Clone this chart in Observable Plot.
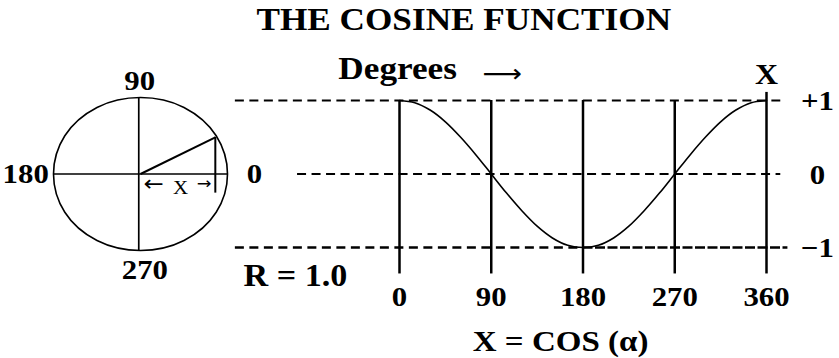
<!DOCTYPE html>
<html>
<head>
<meta charset="utf-8">
<script src="https://cdn.jsdelivr.net/npm/d3@7"></script>
<script src="https://cdn.jsdelivr.net/npm/@observablehq/plot@0.6"></script>
<style>
  html, body { margin: 0; padding: 0; background: #ffffff; }
  #chart { position: relative; width: 839px; height: 358px; overflow: hidden; background: #ffffff; }
  #chart svg { position: absolute; left: 0; top: 0; max-width: none; }
</style>
</head>
<body>
<div id="chart"></div>
<script>
// ---- Data ----
const titleText = ["THE COSINE FUNCTION"];
const axisTitle = ["Degrees"];
const rightArrow = ["\u27f6"];
const curveLabel = ["X"];
const radiusLabel = ["R = 1.0"];
const formulaLabel = ["X = COS (\u03b1)"];

const degreeTicks = [0, 90, 180, 270, 360];
const levelValues = [1, 0, -1];
const levelLabels = ["+1", "0", "\u22121"];

// cosine curve sampled every 15 degrees
const curveDegrees = [0, 15, 30, 45, 60, 75, 90, 105, 120, 135, 150, 165, 180,
                      195, 210, 225, 240, 255, 270, 285, 300, 315, 330, 345, 360];
const curveValues  = [1, 0.97, 0.87, 0.71, 0.5, 0.26, 0, -0.26, -0.5, -0.71, -0.87, -0.97, -1,
                      -0.97, -0.87, -0.71, -0.5, -0.26, 0, 0.26, 0.5, 0.71, 0.87, 0.97, 1];

// unit circle outline points (every 30 degrees)
const circleX = [1, 0.87, 0.5, 0, -0.5, -0.87, -1, -0.87, -0.5, 0, 0.5, 0.87];
const circleY = [0, 0.5, 0.87, 1, 0.87, 0.5, 0, -0.5, -0.87, -1, -0.87, -0.5];
const circleLabels = ["0", "90", "180", "270"];

// radius end point on the circle and its projection
const radiusPoint = {x: 0.86, y: 0.48};
const projectionParts = ["\u2190", "X", "\u2192"];

// ---- Styling ----
const font = "'Liberation Serif', 'DejaVu Serif', serif";
const arrowFont = "'DejaVu Sans', sans-serif";
const textStretch = 1.1;
const chart = document.getElementById("chart");

function stretchText(svg, factor) {
  d3.select(svg).selectAll("text").each(function () {
    const len = this.getComputedTextLength();
    if (len > 0) {
      this.setAttribute("textLength", (len * factor).toFixed(2));
      this.setAttribute("lengthAdjust", "spacingAndGlyphs");
    }
  });
}

const bold = {fontWeight: "bold", fill: "#000"};

// ---- Main cosine plot ----
const curveRows = curveDegrees.map((d, i) => ({deg: d, val: curveValues[i]}));

const main = Plot.plot({
  width: 839,
  height: 358,
  marginLeft: 399,
  marginRight: 73,
  marginTop: 100,
  marginBottom: 111,
  x: {domain: [0, 360], axis: null},
  y: {domain: [-1, 1], axis: null},
  style: {fontFamily: font, background: "transparent", color: "#000", overflow: "visible"},
  marks: [
    // dashed reference levels
    Plot.ruleY([1], {x1: -161, x2: 374, stroke: "#000", strokeWidth: 2, strokeDasharray: "9,5.5"}),
    Plot.ruleY([0], {x1: -100, x2: 374, stroke: "#000", strokeWidth: 2, strokeDasharray: "9,5.5"}),
    Plot.ruleY([-1], {x1: -161, x2: 180, stroke: "#000", strokeWidth: 2.4, strokeDasharray: "9,5.5"}),
    Plot.ruleY([-1], {x1: 180, x2: 381, stroke: "#000", strokeWidth: 2.4, strokeDasharray: "10,2.5"}),
    // vertical degree lines
    Plot.ruleX(degreeTicks, {x: d => d, y1: -1.36, y2: d => d === 360 ? 1.11 : 1, stroke: "#000", strokeWidth: 2.5}),
    // cosine curve
    Plot.line(curveRows, {x: "deg", y: "val", curve: "catmull-rom", stroke: "#000", strokeWidth: 1.6}),
    // degree labels
    Plot.text(degreeTicks, {x: d => d, y: -1, dy: 58, text: d => String(d), lineAnchor: "bottom",
      fontSize: 28, ...bold}),
    // right level labels
    Plot.text(levelValues, {x: 410, y: d => d, dy: 1, text: (d, i) => levelLabels[i], lineAnchor: "middle",
      fontSize: 28, ...bold}),
    // axis title and its arrow
    Plot.text(axisTitle, {x: -60, y: 1, dy: -22, text: d => d, textAnchor: "start", lineAnchor: "bottom",
      fontSize: 32, ...bold}),
    Plot.text(rightArrow, {x: 100.5, y: 1, dy: -27, text: d => d, lineAnchor: "middle",
      fontSize: 25, fontFamily: arrowFont, fontWeight: "normal", fill: "#000"}),
    Plot.text(curveLabel, {x: 360, y: 1, dy: -17, text: d => d, lineAnchor: "bottom",
      fontSize: 29, ...bold}),
    Plot.text(radiusLabel, {x: -153, y: -1, dy: 38, text: d => d, textAnchor: "start", lineAnchor: "bottom",
      fontSize: 31, ...bold}),
    Plot.text(formulaLabel, {x: 158, y: -1, dy: 103, text: d => d, lineAnchor: "bottom",
      fontSize: 30, ...bold}),
    Plot.text(titleText, {x: 63, y: 1, dy: -71, text: d => d, lineAnchor: "bottom",
      fontSize: 32, ...bold})
  ]
});
chart.appendChild(main);

// ---- Circle diagram ----
const circleRows = circleX.map((x, i) => ({x, y: circleY[i]}));
const circleLabelRows = [
  {text: circleLabels[0], x: 1.31, y: 0},
  {text: circleLabels[1], x: -0.01, y: 1.21},
  {text: circleLabels[3], x: 0.05, y: -1.25}
];

const circle = Plot.plot({
  width: 839,
  height: 358,
  marginLeft: 53,
  marginRight: 612,
  marginTop: 97,
  marginBottom: 108,
  x: {domain: [-1, 1], axis: null},
  y: {domain: [-1, 1], axis: null},
  style: {fontFamily: font, background: "transparent", color: "#000", overflow: "visible"},
  marks: [
    Plot.line(circleRows, {x: "x", y: "y", curve: "catmull-rom-closed", stroke: "#000", strokeWidth: 1.6}),
    Plot.ruleY([0], {x1: -1, x2: 1, stroke: "#000", strokeWidth: 1.7}),
    Plot.ruleX([-0.02], {y1: -1, y2: 1, stroke: "#000", strokeWidth: 1.7}),
    Plot.link([radiusPoint], {x1: 0, y1: 0, x2: "x", y2: "y", stroke: "#000", strokeWidth: 2}),
    Plot.ruleX([radiusPoint], {x: "x", y1: "y", y2: -0.25, stroke: "#000", strokeWidth: 2}),
    // projection label: arrow, X, arrow
    Plot.text([projectionParts[0]], {x: 0.15, y: 0, dy: 9.5, text: d => d, lineAnchor: "middle",
      fontSize: 22, fontFamily: arrowFont, fill: "#000"}),
    Plot.text([projectionParts[1]], {x: 0.46, y: 0, dy: 14, text: d => d, lineAnchor: "middle",
      fontSize: 19, fill: "#000"}),
    Plot.text([projectionParts[2]], {x: 0.73, y: 0, dy: 9.5, text: d => d, lineAnchor: "middle",
      fontSize: 16, fontFamily: arrowFont, fill: "#000"}),
    Plot.text(circleLabelRows, {x: "x", y: "y", text: "text",
      lineAnchor: "middle", fontSize: 28, ...bold}),
    Plot.text([circleLabels[2]], {x: -1.585, y: 0, text: d => d,
      textAnchor: "start", lineAnchor: "middle", fontSize: 28, ...bold})
  ]
});
chart.appendChild(circle);

stretchText(main, textStretch);
stretchText(circle, textStretch);
</script>
</body>
</html>
